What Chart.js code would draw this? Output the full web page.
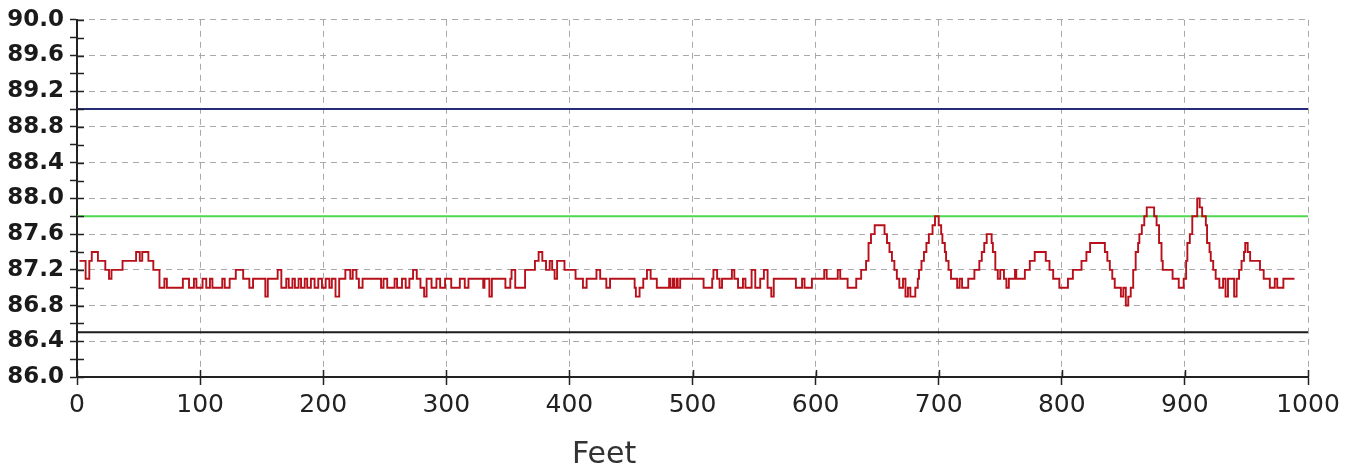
<!DOCTYPE html>
<html>
<head>
<meta charset="utf-8">
<script src="https://cdn.jsdelivr.net/npm/chart.js@4.4.1/dist/chart.umd.min.js"></script>
<style>
  html, body { margin: 0; padding: 0; background: #fff; }
  #wrap { position: relative; width: 1356px; height: 466px; }
  #feet { position: absolute; left: 572px; top: 438px; font: 30px "DejaVu Sans", sans-serif; line-height: 30px; color: #333; }
</style>
</head>
<body>
<div id="wrap">
  <canvas id="c" width="1356" height="466"></canvas>
  <div id="feet">Feet</div>
</div>
<script>
// x axis (feet) and y axis (reading) ranges
const xMin = 0, xMax = 1000, xStep = 100;
const yMin = 86, yMax = 90, yStep = 0.2;

// limit lines
const limitValues = [89.0, 87.8, 86.5];
const limitColors = ['#262c78', '#4fd84f', '#1c1c1c'];

const stepFeet = [
  2, 7, 10, 12, 17, 23, 26, 28, 37, 48, 51, 53, 58, 62, 67, 71, 73,
  86, 91, 95, 97, 102, 105, 108, 110, 118, 120, 124, 129, 135, 140, 143,
  153, 155, 163, 166, 170, 172, 175, 177, 180, 182, 185, 187, 190, 193, 196, 199,
  202, 205, 207, 210, 213, 218, 222, 224, 227, 229, 232, 247,
  249, 252, 258, 260, 264, 267, 270, 273, 276, 279, 282, 284, 288, 292, 295, 299,
  304, 311, 315, 318, 330, 331, 335, 337, 348, 352, 353, 356, 364, 372, 375, 378,
  381, 384, 386, 388, 390, 396, 405, 411, 414, 422, 425, 430, 433, 453, 454, 457,
  460, 463, 466, 471, 481, 482, 484, 485, 487, 488, 490,
  494, 509, 516, 517, 520, 522, 524, 532, 534, 537, 541, 543, 548, 551, 555, 558,
  561, 564, 566, 584, 589, 591, 597, 607, 609, 618, 620, 626, 633, 637, 641, 643,
  645, 648, 656, 658, 660, 662, 664, 666, 668, 671, 673, 675, 677, 681, 683, 684,
  686, 688, 690, 692, 695, 697, 700, 702, 703, 705, 706, 708, 710, 715, 717, 719,
  724, 729, 733, 735, 737, 739,
  743, 744, 746, 748, 750, 753, 755, 757, 762, 763, 770, 774, 778, 787, 790, 793,
  798, 805, 809, 816, 820, 823, 835, 837, 839, 841, 843, 848, 850, 852, 854, 856,
  858, 860, 862, 863, 865, 867, 869, 875, 877, 879, 881, 882, 890, 895, 899, 901,
  902, 904, 906, 910, 912, 914, 917, 918, 920, 921, 923, 925, 928, 931, 933, 935,
  940, 942, 944, 946, 948, 949, 951, 953, 961, 964, 969, 973, 975, 980, 989
];
const stepValues = [
  87.3, 87.1, 87.3, 87.4, 87.3, 87.2, 87.1, 87.2, 87.3, 87.4, 87.3, 87.4, 87.3, 87.2, 87.0, 87.1, 87.0,
  87.1, 87.0, 87.1, 87.0, 87.1, 87.0, 87.1, 87.0, 87.1, 87.0, 87.1, 87.2, 87.1, 87.0, 87.1,
  86.9, 87.1, 87.2, 87.0, 87.1, 87.0, 87.1, 87.0, 87.1, 87.0, 87.1, 87.0, 87.1, 87.0, 87.1, 87.0,
  87.1, 87.0, 87.1, 86.9, 87.1, 87.2, 87.1, 87.2, 87.1, 87.0, 87.1, 87.0,
  87.1, 87.0, 87.1, 87.0, 87.1, 87.0, 87.1, 87.2, 87.1, 87.0, 86.9, 87.1, 87.0, 87.1, 87.0, 87.1,
  87.0, 87.1, 87.0, 87.1, 87.0, 87.1, 86.9, 87.1, 87.0, 87.1, 87.2, 87.0, 87.2, 87.3, 87.4, 87.3,
  87.2, 87.3, 87.2, 87.1, 87.3, 87.2, 87.1, 87.0, 87.1, 87.2, 87.1, 87.0, 87.1, 87.0, 86.9, 87.0,
  87.1, 87.2, 87.1, 87.0, 87.1, 87.0, 87.1, 87.0, 87.1, 87.0, 87.1,
  87.1, 87.0, 87.1, 87.2, 87.1, 87.0, 87.1, 87.2, 87.1, 87.0, 87.1, 87.0, 87.2, 87.0, 87.1, 87.2,
  87.0, 86.9, 87.1, 87.0, 87.1, 87.0, 87.1, 87.2, 87.1, 87.2, 87.1, 87.0, 87.1, 87.2, 87.3, 87.5,
  87.6, 87.7, 87.6, 87.5, 87.4, 87.3, 87.2, 87.1, 87.0, 87.1, 86.9, 87.0, 86.9, 87.0, 87.1, 87.2,
  87.3, 87.4, 87.5, 87.6, 87.7, 87.8, 87.7, 87.6, 87.5, 87.4, 87.3, 87.2, 87.1, 87.0, 87.1, 87.0,
  87.1, 87.2, 87.3, 87.4, 87.5, 87.6,
  87.5, 87.4, 87.2, 87.1, 87.2, 87.1, 87.0, 87.1, 87.2, 87.1, 87.2, 87.3, 87.4, 87.3, 87.2, 87.1,
  87.0, 87.1, 87.2, 87.3, 87.4, 87.5, 87.4, 87.3, 87.2, 87.1, 87.0, 86.9, 87.0, 86.8, 86.9, 87.0,
  87.2, 87.4, 87.5, 87.6, 87.7, 87.8, 87.9, 87.8, 87.7, 87.5, 87.3, 87.2, 87.1, 87.0, 87.1, 87.3,
  87.5, 87.6, 87.8, 88.0, 87.9, 87.8, 87.7, 87.5, 87.4, 87.3, 87.2, 87.1, 87.0, 87.1, 86.9, 87.1,
  86.9, 87.1, 87.2, 87.3, 87.4, 87.5, 87.4, 87.3, 87.2, 87.1, 87.0, 87.1, 87.0, 87.1, 87.1
];

const isMajorY = v => Math.round(v * 10) % 4 === 0;

// tick marks in the original cross the axis line, Chart.js only draws the outer half
const innerTicks = {
  id: 'innerTicks',
  afterDatasetsDraw(chart) {
    const { ctx, chartArea, scales } = chart;
    ctx.save();
    ctx.strokeStyle = '#222';
    ctx.lineWidth = 1.5;
    ctx.beginPath();
    for (const t of scales.y.ticks) {
      const py = Math.round(scales.y.getPixelForValue(t.value)) + 0.5;
      ctx.moveTo(chartArea.left, py);
      ctx.lineTo(chartArea.left + 7, py);
    }
    for (const t of scales.x.ticks) {
      const px = Math.round(scales.x.getPixelForValue(t.value)) + 0.5;
      ctx.moveTo(px, chartArea.bottom);
      ctx.lineTo(px, chartArea.bottom - 7);
    }
    ctx.stroke();
    ctx.restore();
  }
};

const datasets = limitValues.map((v, i) => ({
  data: [{ x: xMin, y: v }, { x: xMax, y: v }],
  borderColor: limitColors[i],
  borderWidth: 2,
  pointRadius: 0,
  order: 2
}));
datasets.push({
  data: stepFeet.map((f, i) => ({ x: f, y: stepValues[i] })),
  borderColor: '#b8101a',
  borderWidth: 1.9,
  pointRadius: 0,
  stepped: true,
  order: 1
});

new Chart(document.getElementById('c'), {
  type: 'line',
  data: { datasets },
  plugins: [innerTicks],
  options: {
    responsive: false,
    animation: false,
    devicePixelRatio: 1,
    layout: { padding: { top: 19, right: 48, left: 0, bottom: 0 } },
    plugins: { legend: { display: false }, tooltip: { enabled: false } },
    scales: {
      x: {
        type: 'linear',
        min: xMin, max: xMax,
        afterFit: s => { s.height = 89; },
        ticks: {
          stepSize: xStep,
          autoSkip: false,
          maxRotation: 0,
          padding: 5,
          color: '#222',
          font: { family: 'DejaVu Sans', size: 25 },
          callback: v => String(v)
        },
        grid: { color: '#a9a9a9', lineWidth: 1, tickLength: 8, tickColor: '#222', tickWidth: 1.5 },
        border: { display: true, color: '#222', width: 2, dash: [6, 5] }
      },
      y: {
        min: yMin, max: yMax,
        afterFit: s => { s.width = 77; },
        ticks: {
          stepSize: yStep,
          autoSkip: false,
          padding: 6,
          color: '#1a1a1a',
          font: { family: 'DejaVu Sans', size: 23, weight: 'bold' },
          callback: v => isMajorY(v) ? v.toFixed(1) : ''
        },
        grid: {
          color: c => isMajorY(c.tick.value) ? '#a9a9a9' : 'rgba(0,0,0,0)',
          lineWidth: 1, tickLength: 7, tickColor: '#222', tickWidth: 1.5
        },
        border: { display: true, color: '#222', width: 2, dash: [6, 5] }
      }
    }
  }
});
</script>
</body>
</html>
